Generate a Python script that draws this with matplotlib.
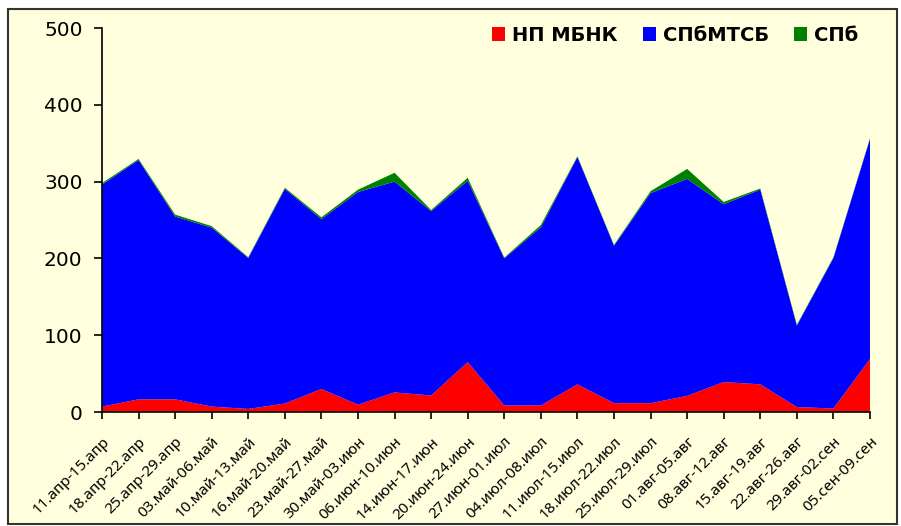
import matplotlib.pyplot as plt
from matplotlib.patches import Rectangle

# периоды (недели)
weeks = ["11.апр-15.апр", "18.апр-22.апр", "25.апр-29.апр", "03.май-06.май",
         "10.май-13.май", "16.май-20.май", "23.май-27.май", "30.май-03.июн",
         "06.июн-10.июн", "14.июн-17.июн", "20.июн-24.июн", "27.июн-01.июл",
         "04.июл-08.июл", "11.июл-15.июл", "18.июл-22.июл", "25.июл-29.июл",
         "01.авг-05.авг", "08.авг-12.авг", "15.авг-19.авг", "22.авг-26.авг",
         "29.авг-02.сен", "05.сен-09.сен"]

np_mbnk = [7, 16.5, 16.5, 7, 4, 11, 30, 9.5, 25.5, 21.5, 65, 8.5,
           8.5, 36, 11.5, 11.5, 21, 39, 36, 6.5, 4.5, 69]
spb_mtsb = [289, 311.5, 238, 233, 196.5, 279.5, 221, 277, 274.5, 240, 236, 191.5,
            232, 296, 205, 273.5, 282.5, 231.5, 253.5, 106, 196, 286.5]
spb = [2, 1.5, 2.5, 2, 1, 1.5, 2.5, 3, 11.5, 1.5, 4, 1,
       3, 1, 1, 2.5, 13, 3, 1.5, 1, 1, 1]

names = ["НП МБНК", "СПбМТСБ", "СПб"]
colors = ["#FF0000", "#0000FF", "#008000"]

bg = "#FFFFDD"

fig = plt.figure(figsize=(9.01, 5.26), dpi=100)
fig.patch.set_facecolor("white")
# рамка вокруг всей диаграммы
fig.patches.append(Rectangle((8 / 901, 2 / 526), 889 / 901, 515 / 526,
                             transform=fig.transFigure, facecolor=bg,
                             edgecolor="#333333", linewidth=1.5, zorder=-5))

ax = fig.add_axes([102 / 901, 1 - 412 / 526, 768 / 901, 384 / 526])
ax.patch.set_alpha(0)

x = list(range(len(weeks)))
ax.stackplot(x, np_mbnk, spb_mtsb, spb, colors=colors, linewidth=0)

ax.set_xlim(0, len(weeks) - 1)
ax.set_ylim(0, 500)
ax.set_yticks(range(0, 501, 100))
ax.set_xticks(x)
ax.set_xticklabels(weeks, rotation=45, ha="right", rotation_mode="anchor",
                   fontsize=11, family=["Noto Sans", "DejaVu Sans"])
ax.tick_params(axis="y", labelsize=14.5, length=6, width=1.2, pad=8)
ax.tick_params(axis="x", length=5, width=1.2, pad=11)

for s in ["top", "right"]:
    ax.spines[s].set_visible(False)
for s in ["left", "bottom"]:
    ax.spines[s].set_linewidth(1.2)

handles = [Rectangle((0, 0), 1, 1, facecolor=c) for c in colors]
ax.legend(handles, names, loc="upper right", bbox_to_anchor=(866 / 901, 1 - 18 / 526),
          bbox_transform=fig.transFigure, borderaxespad=0, ncol=3, frameon=False,
          handlelength=0.67, handleheight=0.67, handletextpad=0.36,
          columnspacing=1.3, prop={"weight": "bold", "size": 14})

fig.savefig("out.png", dpi=100, facecolor=fig.get_facecolor())
